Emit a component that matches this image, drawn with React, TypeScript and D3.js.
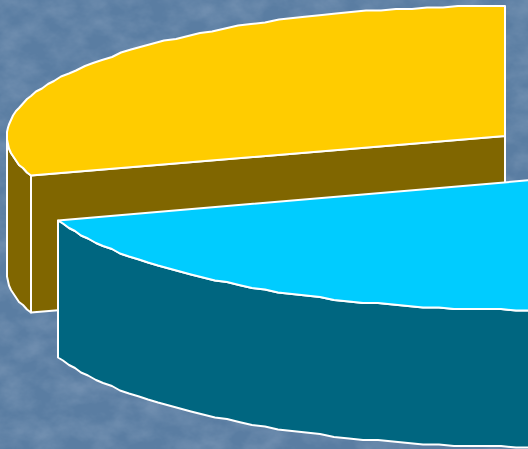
import React from "react";
import * as d3 from "d3";

const W = 528, H = 449;
const categories = ["Other", "Blue", "Yellow"];
const values = [50, 20, 30];
const topColors = ["#ff0000", "#00ccff", "#ffcc00"];
const sideColors = ["#800000", "#006680", "#806600"];
const drawn = [2, 1];
const centers = [[640, 160], [532, 180], [505, 136]];
const RX = 498, RY = 130, DEPTH = 137;

const pie = d3.pie<number>().sort(null)(values);
const snap = (v: number) => Math.round(v / 1.5) * 1.5;

function project(i: number) {
  const [cx, cy] = centers[i];
  const x = d3.scaleLinear().domain([-1, 1]).range([cx - RX, cx + RX]);
  const y = d3.scaleLinear().domain([-1, 1]).range([cy - RY, cy + RY]);
  return (a: number, dz = 0): [number, number] => [
    Math.round(x(Math.sin(a))),
    snap(y(-Math.cos(a))) + dz,
  ];
}

const line = d3.line<[number, number]>().curve(d3.curveLinear);
const stroke = { stroke: "#fff", strokeWidth: 2, strokeLinejoin: "round" as const };
const WEST = (270 * Math.PI) / 180;

function Slice({ i }: { i: number }) {
  const p = pie[i];
  const pt = project(i);
  const [cx, cy] = centers[i];
  const step = (1.8 * Math.PI) / 180;
  const angles = [...d3.range(p.startAngle, p.endAngle, step), p.endAngle];
  // the front wall is the part of the rim that lies below the centre line
  const rimAngles = angles.filter((a) => a <= WEST + 1e-9);
  const rimTop = rimAngles.map((a) => pt(a));
  const rimBottom = rimAngles.map((a) => pt(a, DEPTH)).reverse();
  const f = pt(p.startAngle);
  const facesFront = i === 2;
  return (
    <g data-name={categories[i]}>
      <path d={(line([...rimTop, ...rimBottom]) ?? "") + "Z"} fill={sideColors[i]} {...stroke} />
      {facesFront && (
        <path
          d={(line([[cx, cy], f, [f[0], f[1] + DEPTH], [cx, cy + DEPTH]]) ?? "") + "Z"}
          fill={sideColors[i]}
          {...stroke}
        />
      )}
      <path d={(line([[cx, cy], ...angles.map((a) => pt(a))]) ?? "") + "Z"} fill={topColors[i]} {...stroke} />
    </g>
  );
}

export default function App() {
  return (
    <svg
      width={W}
      height={H}
      viewBox={`0 0 ${W} ${H}`}
      style={{ position: "fixed", left: 0, top: 0, display: "block" }}
    >
      <defs>
        <filter id="mottle" x="0" y="0" width="100%" height="100%" colorInterpolationFilters="sRGB">
          <feTurbulence type="fractalNoise" baseFrequency="0.035 0.05" numOctaves={4} seed={7} />
          <feColorMatrix
            type="matrix"
            values="0 0 0 0 0.72  0 0 0 0 0.78  0 0 0 0 0.86  1.5 0 0 0 -0.5"
          />
        </filter>
      </defs>
      <rect width={W} height={H} fill="#5a7da2" />
      <rect width={W} height={H} filter="url(#mottle)" opacity={0.3} />
      {drawn.map((i) => (
        <Slice key={i} i={i} />
      ))}
    </svg>
  );
}
